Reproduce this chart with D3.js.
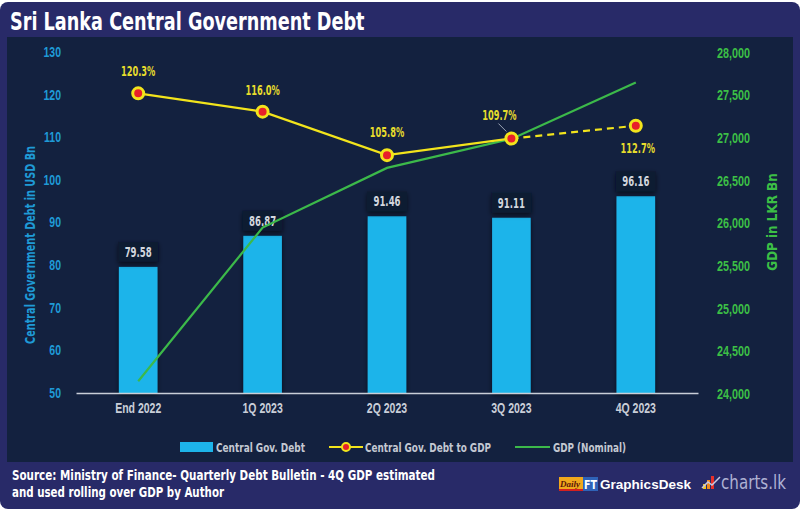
<!DOCTYPE html>
<html><head><meta charset="utf-8">
<script src="https://cdn.jsdelivr.net/npm/d3@7"></script>
<style>
html,body{margin:0;padding:0;background:#fff;}
svg{display:block;font-family:"DejaVu Sans Condensed","Liberation Sans Narrow",sans-serif;font-weight:bold;}
</style></head><body>
<svg id="c" width="800" height="511"></svg>
<script>
const categories = ["End 2022","1Q 2023","2Q 2023","3Q 2023","4Q 2023"];
const debtUSD = [79.58, 86.87, 91.46, 91.11, 96.16];
const debtToGDP = [120.3, 116.0, 105.8, 109.7, 112.7];
const gdpLKR = [24150, 25950, 26650, 26990, 27650];
const leftTicks = [50,60,70,80,90,100,110,120,130];
const rightTicks = [24000,24500,25000,25500,26000,26500,27000,27500,28000];
const legendLabels = ["Central Gov. Debt","Central Gov. Debt to GDP","GDP (Nominal)"];
const titleText = "Sri Lanka Central Government Debt";
const sourceLines = ["Source: Ministry of Finance- Quarterly Debt Bulletin - 4Q GDP estimated","and used rolling over GDP by Author"];

const svg = d3.select("#c");
const W=800,H=511;
const C = {frame:"#282a68", panel:"#13213f", bar:"#1db4ea", yellow:"#f2e41c", red:"#e8202a",
  green:"#3cb94a", leftTxt:"#1f9ad6", rightTxt:"#3cbf46", axisTxt:"#c9ced8", label:"#d3d7de", pct:"#e6dc2c"};

// horizontally condense text (font is condensed in reference)
function squeeze(sel, k){
  sel.each(function(){
    const L = this.getComputedTextLength();
    d3.select(this).attr("textLength", L*k).attr("lengthAdjust","spacingAndGlyphs");
  });
  return sel;
}

const defs = svg.append("defs");
const f = defs.append("filter").attr("id","sh").attr("x","-30%").attr("y","-30%").attr("width","160%").attr("height","180%");
f.append("feGaussianBlur").attr("in","SourceAlpha").attr("stdDeviation",2.5).attr("result","b");
f.append("feOffset").attr("in","b").attr("dy",2).attr("result","o");
f.append("feFlood").attr("flood-color","#000").attr("flood-opacity",0.6);
f.append("feComposite").attr("in2","o").attr("operator","in");
const m = f.append("feMerge"); m.append("feMergeNode"); m.append("feMergeNode").attr("in","SourceGraphic");

// frame
svg.append("rect").attr("x",0).attr("y",2).attr("width",W).attr("height",507).attr("rx",8).attr("fill",C.frame);
svg.append("rect").attr("x",7).attr("y",37).attr("width",786).attr("height",425).attr("fill",C.panel);

squeeze(svg.append("text").attr("x",10).attr("y",30).attr("fill","#fff").attr("font-size",25).text(titleText), 0.785);

// scales
const x = d3.scaleBand().domain(categories).range([76,698]).paddingInner(0.69).paddingOuter(0.345);
const yL = d3.scaleLinear().domain([50,130]).range([393,52]);
const yR = d3.scaleLinear().domain([24000,28000]).range([394,52.7]);
const cx = d => x(d)+x.bandwidth()/2;

// left axis
const gL = svg.append("g").attr("transform","translate(61,0)")
  .call(d3.axisLeft(yL).tickValues(leftTicks).tickSize(0).tickPadding(0));
gL.select(".domain").remove();
squeeze(gL.selectAll("text").attr("fill",C.leftTxt).attr("font-size",14).attr("font-family",null).attr("font-weight","bold"), 0.75);

const gR = svg.append("g").attr("transform","translate(717,0)")
  .call(d3.axisRight(yR).tickValues(rightTicks).tickSize(0).tickPadding(0).tickFormat(d3.format(",")));
gR.select(".domain").remove();
squeeze(gR.selectAll("text").attr("fill",C.rightTxt).attr("font-size",14).attr("font-family",null).attr("font-weight","bold"), 0.77);

squeeze(svg.append("text").attr("transform","translate(35,245) rotate(-90)").attr("text-anchor","middle")
  .attr("fill",C.leftTxt).attr("font-size",14).text("Central Government Debt in USD Bn"), 0.77);
squeeze(svg.append("text").attr("transform","translate(777,222) rotate(-90)").attr("text-anchor","middle")
  .attr("fill",C.rightTxt).attr("font-size",14).text("GDP in LKR Bn"), 0.95);

// bars
svg.append("g").selectAll("rect").data(categories).join("rect")
  .attr("x",d=>x(d)).attr("width",x.bandwidth())
  .attr("y",(d,i)=>yL(debtUSD[i])).attr("height",(d,i)=>yL(50)-yL(debtUSD[i]))
  .attr("fill",C.bar).attr("filter","url(#sh)");

// baseline & x axis
const gX = svg.append("g").attr("transform","translate(0,393)").call(d3.axisBottom(x).tickSize(0).tickPadding(10));
gX.select(".domain").attr("stroke","#c9ced8").attr("stroke-width",1.5);
squeeze(gX.selectAll("text").attr("fill",C.axisTxt).attr("font-size",14).attr("font-family",null).attr("font-weight","bold"), 0.75);

// value label boxes
const vl = svg.append("g").selectAll("g").data(categories).join("g");
vl.append("rect").attr("x",d=>cx(d)-20).attr("width",40).attr("y",(d,i)=>yL(debtUSD[i])-25).attr("height",20)
  .attr("fill","#0e1a32").attr("filter","url(#sh)");
squeeze(vl.append("text").attr("x",d=>cx(d)).attr("y",(d,i)=>yL(debtUSD[i])-10).attr("text-anchor","middle")
  .attr("fill",C.label).attr("font-size",14).text((d,i)=>debtUSD[i].toFixed(2)), 0.68);

// green line
svg.append("path").datum(categories).attr("fill","none").attr("stroke",C.green).attr("stroke-width",2.2)
  .attr("d",d3.line().x(d=>cx(d)).y((d,i)=>yR(gdpLKR[i])));

// yellow line (solid then dashed last segment)
const yl = d3.line().x(d=>cx(categories[d])).y(d=>yL(debtToGDP[d]));
svg.append("path").datum([0,1,2,3]).attr("fill","none").attr("stroke",C.yellow).attr("stroke-width",2.2).attr("d",yl);
svg.append("path").datum([3,4]).attr("fill","none").attr("stroke",C.yellow).attr("stroke-width",2.2)
  .attr("stroke-dasharray","7,5").attr("d",yl);
svg.append("g").selectAll("circle").data(categories).join("circle")
  .attr("cx",d=>cx(d)).attr("cy",(d,i)=>yL(debtToGDP[i])).attr("r",5.5)
  .attr("fill",C.red).attr("stroke",C.yellow).attr("stroke-width",3);

// pct labels
const pos = [[0,-17],[0,-17],[0,-18],[-12,-19],[2,27]];
squeeze(svg.append("g").selectAll("text").data(categories).join("text")
  .attr("x",(d,i)=>cx(d)+pos[i][0]).attr("y",(d,i)=>yL(debtToGDP[i])+pos[i][1])
  .attr("text-anchor","middle").attr("fill",C.pct).attr("font-size",13.5)
  .text((d,i)=>debtToGDP[i].toFixed(1)+"%"), 0.68);
svg.append("line").attr("x1",cx(categories[3])-13).attr("y1",yL(debtToGDP[3])-15)
  .attr("x2",cx(categories[3])-5).attr("y2",yL(debtToGDP[3])-7).attr("stroke","#9aa3b5").attr("stroke-width",1);

// legend
const lg = svg.append("g");
lg.append("rect").attr("x",180).attr("y",442).attr("width",33).attr("height",10).attr("fill",C.bar);
lg.append("line").attr("x1",329).attr("x2",363).attr("y1",447).attr("y2",447).attr("stroke",C.yellow).attr("stroke-width",2);
lg.append("circle").attr("cx",346).attr("cy",447).attr("r",4).attr("fill",C.red).attr("stroke",C.yellow).attr("stroke-width",2);
lg.append("line").attr("x1",515).attr("x2",550).attr("y1",447).attr("y2",447).attr("stroke",C.green).attr("stroke-width",2);
const legX = [216,365,553], legW = [89,126,73];
lg.selectAll("text").data(legendLabels).join("text")
  .attr("x",(d,i)=>legX[i]).attr("y",452).attr("fill","#c3c8d2").attr("font-size",13)
  .attr("textLength",(d,i)=>legW[i]).attr("lengthAdjust","spacingAndGlyphs").text(d=>d);

// footer
const srcW = [423,212];
svg.append("g").selectAll("text").data(sourceLines).join("text")
  .attr("x",12).attr("y",(d,i)=>480+i*17).attr("fill","#fff").attr("font-size",14)
  .attr("textLength",(d,i)=>srcW[i]).attr("lengthAdjust","spacingAndGlyphs").text(d=>d);

// logos (text)
const lgx = svg.append("g");
lgx.append("rect").attr("x",559).attr("y",477).attr("width",24).attr("height",14).attr("fill","#f0a81c");
lgx.append("rect").attr("x",559).attr("y",489).attr("width",24).attr("height",2).attr("fill","#d42020");
lgx.append("text").attr("x",560).attr("y",487).attr("font-size",9).attr("fill","#5a1408").attr("font-style","italic")
  .attr("font-family","Liberation Serif, serif").text("Daily");
lgx.append("rect").attr("x",583).attr("y",477).attr("width",15).attr("height",14).attr("fill","#2f63b8");
lgx.append("text").attr("x",584).attr("y",489).attr("font-size",12).attr("fill","#fff")
  .attr("textLength",13).attr("lengthAdjust","spacingAndGlyphs").text("FT");
lgx.append("text").attr("x",600).attr("y",489).attr("font-size",13).attr("fill","#fff")
  .attr("font-family","Liberation Sans, sans-serif")
  .attr("textLength",91).attr("lengthAdjust","spacingAndGlyphs").text("GraphicsDesk");
lgx.append("text").attr("x",721).attr("y",489).attr("font-size",20).attr("fill","#aeb1d3").attr("font-weight","normal")
  .attr("textLength",65).attr("lengthAdjust","spacingAndGlyphs").text("charts.lk");
lgx.append("rect").attr("x",703).attr("y",484).attr("width",3).attr("height",5).attr("fill","#f2c21c");
lgx.append("rect").attr("x",707).attr("y",480).attr("width",3).attr("height",9).attr("fill","#f08a1c");
lgx.append("rect").attr("x",711).attr("y",476).attr("width",3).attr("height",13).attr("fill","#e8302a");
lgx.append("path").attr("d","M702,488 L708,482 L712,485 L720,477").attr("fill","none").attr("stroke","#c8c8e0").attr("stroke-width",1.5);
</script></body></html>
